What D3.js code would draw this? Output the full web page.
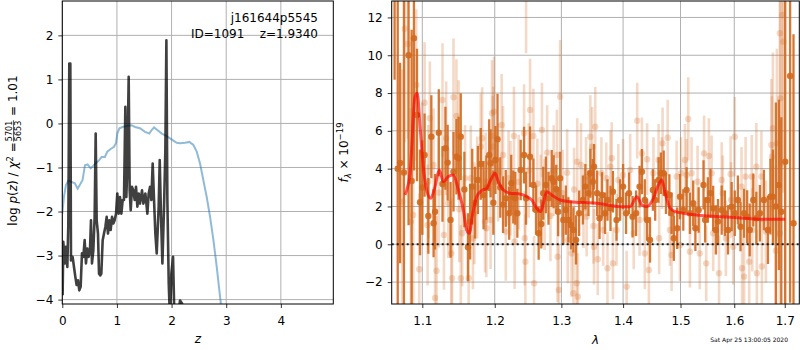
<!DOCTYPE html>
<html>
<head>
<meta charset="utf-8">
<script src="https://cdn.jsdelivr.net/npm/d3@7"></script>
<style>
body { margin: 0; background: #fff; }
svg { font-family: "DejaVu Sans", sans-serif; }
</style>
</head>
<body>
<svg id="fig" width="800" height="350"></svg>
<script>
// ---- left panel: log p(z) ----
var blackZ = [0.006,0.018,0.049,0.067,0.092,0.110,0.128,0.147,0.159,0.189,0.214,0.238,0.262,0.287,0.311,0.336,0.360,0.385,0.409,0.433,0.458,0.482,0.507,0.525,0.543,0.568,0.592,0.611,0.629,0.653,0.672,0.696,0.714,0.739,0.763,0.788,0.812,0.836,0.861,0.885,0.910,0.934,0.958,0.983,1.007,1.032,1.056,1.081,1.105,1.129,1.154,1.172,1.190,1.215,1.233,1.252,1.276,1.300,1.325,1.349,1.374,1.398,1.422,1.459,1.484,1.520,1.557,1.581,1.606,1.630,1.654,1.679,1.703,1.728,1.764,1.783,1.807,1.832,1.862,1.886,1.905,1.923,1.948,1.972,1.996,2.027,2.051,2.106,2.155,2.192,2.228];
var blackLogp = [-3.90,-2.69,-3.18,-2.80,-3.26,-2.31,1.36,1.36,-3.11,-3.03,-3.26,-3.48,-3.67,-3.56,-3.79,-3.71,-2.95,-3.03,-2.65,-3.18,-2.84,-3.03,-2.86,-2.20,-3.18,-2.88,-2.12,-0.23,-2.20,-2.50,-3.41,-3.45,-3.41,-2.65,-2.50,-2.35,-2.12,-2.50,-2.20,-2.42,-2.12,-2.27,-2.20,-2.05,-1.59,-2.05,-1.67,-2.05,-1.74,-1.74,0.38,-1.67,-0.98,1.06,-1.52,-1.97,-1.44,-1.52,-1.74,-1.44,-1.89,-1.59,-1.82,-1.52,-1.82,-1.59,-2.05,-1.59,-1.44,-1.74,-0.91,-1.74,-2.50,-2.95,-1.89,-0.83,-2.12,-3.18,-1.89,-0.61,1.89,-1.74,-3.64,-4.47,-3.41,-3.03,-4.39,-4.47,-4.02,-4.09,-4.47];

var blueZ = [0.0,0.03,0.067,0.11,0.17,0.23,0.28,0.32,0.37,0.415,0.464,0.519,0.556,0.604,0.665,0.72,0.78,0.824,0.885,0.946,0.983,1.007,1.044,1.105,1.178,1.27,1.331,1.422,1.514,1.593,1.636,1.679,1.74,1.819,1.911,1.972,2.033,2.094,2.155,2.247,2.326,2.399,2.46,2.521,2.582,2.643,2.705,2.766,2.827,2.888,2.936];
var blueLogp = [-2.05,-1.67,-1.40,-1.30,-1.33,-1.36,-1.48,-1.40,-1.29,-0.95,-0.93,-1.02,-0.98,-0.91,-0.85,-0.76,-0.76,-0.64,-0.58,-0.53,-0.45,-0.23,-0.11,-0.08,-0.06,-0.04,-0.08,-0.11,-0.19,-0.23,-0.15,-0.09,-0.15,-0.23,-0.29,-0.34,-0.39,-0.44,-0.45,-0.44,-0.42,-0.49,-0.64,-0.91,-1.29,-1.67,-2.12,-2.65,-3.26,-3.94,-4.47];

var zTicks = [0, 1, 2, 3, 4];
var logpTicks = [-4, -3, -2, -1, 0, 1, 2];

// ---- right panel: spectrum  [wavelength, flux, error] ----
var darkPoints = [
[1.064,14.0,5.3],[1.068,4.0,9.0],[1.071,4.3,5.3],[1.076,3.8,9.5],[1.082,10.0,9.0],[1.086,3.35,8.0],[1.089,10.9,7.0],[1.093,6.84,3.5],[1.097,2.22,2.8],[1.100,3.0,2.5],[1.103,4.72,2.2],[1.108,1.5,2.0],[1.112,5.69,2.2],[1.115,1.11,1.8],[1.117,1.72,2.0],[1.122,5.90,2.3],[1.127,3.19,2.0],[1.131,5.08,2.2],[1.134,4.32,2.0],[1.138,1.29,2.0],[1.142,3.84,2.1],[1.146,4.63,2.0],[1.149,4.55,2.2],[1.152,5.69,2.3],[1.157,2.9,2.0],[1.162,-0.16,1.8],[1.165,1.2,2.0],[1.168,3.05,2.0],[1.172,2.2,1.9],[1.176,3.40,1.8],[1.180,4.25,1.9],[1.184,2.6,1.8],[1.188,3.0,1.7],[1.192,4.72,1.9],[1.194,4.29,1.8],[1.198,2.2,1.7],[1.201,4.46,1.8],[1.204,5.56,2.4],[1.208,3.0,1.6],[1.212,2.1,1.5],[1.216,2.43,1.5],[1.221,1.64,1.4],[1.224,3.23,1.5],[1.227,2.5,1.4],[1.230,2.43,1.4],[1.233,1.64,1.3],[1.238,3.93,1.6],[1.243,4.72,1.5],[1.246,2.43,1.4],[1.252,4.63,1.6],[1.257,3.14,1.4],[1.261,1.81,1.3],[1.265,0.58,1.4],[1.269,1.07,1.3],[1.272,2.70,1.4],[1.276,3.14,1.5],[1.280,2.43,1.4],[1.285,3.49,1.5],[1.288,3.31,1.4],[1.292,2.91,1.3],[1.295,1.72,1.3],[1.298,3.49,1.4],[1.303,1.29,1.3],[1.307,1.81,1.3],[1.311,1.29,1.2],[1.315,1.02,1.3],[1.319,0.76,1.2],[1.323,0.23,1.3],[1.328,1.64,1.2],[1.334,2.34,1.3],[1.338,3.05,1.2],[1.343,2.70,1.2],[1.346,3.76,1.3],[1.350,3.31,1.2],[1.352,4.1,1.2],[1.357,2.70,1.2],[1.361,1.38,1.1],[1.365,2.61,1.2],[1.370,1.64,1.1],[1.374,2.34,1.1],[1.379,1.90,1.2],[1.383,2.78,1.1],[1.389,1.29,1.1],[1.395,2.34,1.1],[1.400,3.05,1.2],[1.405,1.64,1.1],[1.410,2.70,1.1],[1.416,1.46,1.1],[1.422,1.64,1.2],[1.428,3.05,1.1],[1.432,3.84,1.2],[1.437,2.34,1.1],[1.441,1.29,1.1],[1.446,0.23,1.2],[1.451,2.87,1.1],[1.455,2.34,1.1],[1.461,3.40,1.2],[1.465,3.76,1.1],[1.470,3.76,1.2],[1.474,2.70,1.1],[1.480,2.61,1.1],[1.484,1.64,1.1],[1.488,0.32,1.2],[1.494,0.85,1.1],[1.499,2.52,1.2],[1.505,1.81,1.1],[1.511,2.87,1.2],[1.517,1.64,1.1],[1.523,2.17,1.2],[1.527,0.85,1.2],[1.533,1.81,1.2],[1.542,3.14,1.3],[1.545,1.29,1.2],[1.550,2.34,1.2],[1.555,2.70,1.3],[1.560,1.90,1.2],[1.565,0.76,1.3],[1.569,1.20,1.2],[1.576,1.81,1.3],[1.582,1.64,1.2],[1.588,0.76,1.3],[1.595,1.99,1.3],[1.601,1.64,1.2],[1.607,2.34,1.3],[1.612,0.93,1.3],[1.619,1.64,1.3],[1.625,1.46,1.4],[1.630,0.76,1.4],[1.637,2.34,1.4],[1.643,1.38,1.4],[1.650,1.64,1.5],[1.658,2.34,1.6],[1.666,0.76,1.8],[1.671,2.52,2.0],[1.676,2.52,2.5],[1.682,2.0,5.5],[1.688,3.14,4.5],[1.693,1.72,5.0],[1.701,4.37,9.0],[1.711,8.9,12.0],[1.718,1.11,10.0]
];

var lightPoints = [
[1.074,2.25,7],[1.077,11.4,6],[1.081,10.6,5],[1.085,1.20,6],[1.088,1.55,5],[1.092,8.43,4],[1.096,-1.32,4],[1.100,4.0,3.5],[1.103,7.49,3.2],[1.107,1.02,3.2],[1.108,3.31,3.0],[1.110,6.67,3.0],[1.115,4.20,3.0],[1.117,-2.84,2.8],[1.119,-1.40,2.9],[1.122,2.73,2.9],[1.127,7.63,3.0],[1.129,0.49,2.9],[1.132,5.61,3.0],[1.135,2.17,2.9],[1.139,-0.48,2.9],[1.140,-1.80,2.9],[1.142,7.78,3.1],[1.146,6.79,3.0],[1.149,5.78,2.9],[1.150,1.85,2.8],[1.152,-1.80,2.8],[1.154,0.58,2.8],[1.158,3.5,2.8],[1.163,-1.80,2.7],[1.166,3.49,2.8],[1.169,0.32,2.7],[1.171,1.64,2.7],[1.175,3.0,2.7],[1.180,5.16,2.8],[1.182,5.61,2.7],[1.186,1.20,2.7],[1.187,3.31,2.6],[1.188,0.85,2.6],[1.194,1.29,2.6],[1.196,6.93,2.8],[1.197,5.16,2.7],[1.198,5.73,2.6],[1.199,7.02,2.9],[1.205,3.8,2.6],[1.210,6.31,2.7],[1.212,4.72,2.6],[1.216,0.67,2.6],[1.220,3.5,2.5],[1.223,2.96,2.5],[1.228,5.73,2.6],[1.229,0.14,2.5],[1.235,3.3,2.5],[1.243,5.87,2.6],[1.244,0.32,2.5],[1.245,-0.92,2.5],[1.246,13.2,3.1],[1.250,3.9,2.5],[1.252,7.11,2.7],[1.257,5.73,2.5],[1.258,-2.06,2.5],[1.263,3.2,2.4],[1.268,2.34,2.4],[1.270,6.05,2.5],[1.274,2.1,2.4],[1.278,4.85,2.5],[1.283,1.5,2.4],[1.288,3.9,2.4],[1.293,4.72,2.4],[1.294,-0.66,2.4],[1.296,-2.42,2.4],[1.298,7.81,3.0],[1.302,2.7,2.3],[1.309,3.79,2.3],[1.310,0.23,2.3],[1.316,-0.48,2.3],[1.319,-2.59,2.3],[1.320,2.9,2.2],[1.324,-2.06,2.3],[1.325,4.37,2.3],[1.326,-2.77,2.3],[1.331,4.20,2.2],[1.335,1.9,2.1],[1.339,3.58,2.1],[1.340,1.46,2.1],[1.346,5.69,2.2],[1.349,5.16,2.1],[1.351,0.97,2.0],[1.352,-0.13,2.0],[1.354,6.22,2.1],[1.358,-0.79,1.9],[1.364,3.76,1.9],[1.367,0.76,1.9],[1.372,3.49,1.9],[1.374,-1.27,1.9],[1.379,4.11,1.9],[1.381,4.55,1.9],[1.383,-1.01,1.9],[1.389,0.76,1.9],[1.392,3.40,1.9],[1.400,3.67,1.9],[1.406,-2.24,1.9],[1.412,3.93,1.9],[1.418,0.58,1.9],[1.424,6.54,2.0],[1.428,1.29,1.9],[1.432,4.81,1.9],[1.437,-0.48,1.9],[1.441,4.50,1.9],[1.444,-1.36,1.9],[1.452,3.76,1.9],[1.461,4.46,1.9],[1.462,0.32,1.9],[1.467,3.76,1.9],[1.468,5.34,1.9],[1.477,5.64,2.0],[1.481,0.76,1.9],[1.484,-0.57,1.9],[1.493,3.58,1.9],[1.499,-0.04,1.9],[1.501,3.76,1.9],[1.508,4.46,1.9],[1.511,3.67,1.9],[1.514,6.63,2.2],[1.517,-0.39,1.9],[1.520,3.76,1.9],[1.531,3.31,1.9],[1.535,-0.48,1.9],[1.543,4.81,2.0],[1.547,-1.01,2.0],[1.552,4.67,2.0],[1.557,3.76,2.0],[1.560,0.58,2.0],[1.571,-1.53,2.0],[1.576,3.40,2.0],[1.578,2.70,2.0],[1.584,0.32,2.0],[1.593,3.72,2.0],[1.594,2.34,2.0],[1.598,-0.13,2.0],[1.601,5.69,2.1],[1.614,3.05,2.1],[1.615,-1.27,2.1],[1.619,-1.71,2.1],[1.622,3.58,2.1],[1.629,-0.92,2.2],[1.634,3.58,2.2],[1.635,0.76,2.2],[1.643,4.11,2.3],[1.644,-1.53,2.3],[1.653,3.58,2.4],[1.654,-1.18,2.5],[1.662,0.67,2.7],[1.673,5.25,3.5],[1.674,4.63,3.2],[1.676,6.14,4],[1.682,-0.34,4.5],[1.684,5.34,5],[1.690,0.58,6],[1.690,11.16,7],[1.691,7.72,6],[1.695,12.13,8],[1.697,10.72,8]
];

var modelWave = [1.0774,1.0839,1.0904,1.0934,1.0970,1.1013,1.1058,1.1112,1.1169,1.1227,1.1281,1.1349,1.1418,1.1487,1.1556,1.1603,1.1639,1.1687,1.1744,1.1814,1.1885,1.1942,1.2005,1.2052,1.2125,1.2223,1.2370,1.2471,1.2546,1.2621,1.2682,1.2721,1.2774,1.2850,1.2980,1.3136,1.3565,1.3950,1.4119,1.4233,1.4319,1.4405,1.4519,1.4607,1.4667,1.4726,1.4815,1.4904,1.5298,1.5922,1.6572,1.7010];
var modelFlux = [2.61,3.76,7.81,7.99,6.22,4.10,2.87,2.43,3.05,3.93,3.31,3.58,3.67,2.87,1.81,0.76,0.58,1.64,2.52,2.84,2.96,3.40,3.76,3.31,2.87,2.70,2.66,2.52,2.34,1.90,1.73,2.17,2.78,2.61,2.34,2.25,2.17,1.99,1.99,2.52,2.08,1.99,2.43,3.14,3.40,2.70,1.90,1.73,1.55,1.43,1.32,1.32];

var waveTicks = [1.1, 1.2, 1.3, 1.4, 1.5, 1.6, 1.7];
var fluxTicks = [-2, 0, 2, 4, 6, 8, 10, 12];

// ---- layout ----
var svg = d3.select('#fig');
var FS = 12;
var SPEC = 'chocolate';

var pL = {x0: 62.3, x1: 333.3, y0: 1, y1: 304};
var pR = {x0: 391.7, x1: 799.3, y0: 1, y1: 304};

var xL = d3.scaleLinear().domain([0, 4.96]).range([pL.x0, pL.x1]);
var yL = d3.scaleLinear().domain([-4.1, 2.78]).range([pL.y1, pL.y0]);
var xR = d3.scaleLog().domain([1.0603, 1.730]).range([pR.x0, pR.x1]);
var yR = d3.scaleLinear().domain([-3.16, 12.87]).range([pR.y1, pR.y0]);

function clip(id, p){
	svg.append('clipPath').attr('id', id).append('rect')
		.attr('x', p.x0).attr('y', p.y0)
		.attr('width', p.x1 - p.x0).attr('height', p.y1 - p.y0);
}
clip('clipL', pL);
clip('clipR', pR);

function grid(p, x, y, xt, yt){
	var g = svg.append('g').attr('stroke', '#b0b0b0').attr('stroke-width', 1);
	g.selectAll('.gx').data(xt).enter().append('line')
		.attr('x1', function(d){ return x(d); }).attr('x2', function(d){ return x(d); })
		.attr('y1', p.y0).attr('y2', p.y1);
	g.selectAll('.gy').data(yt).enter().append('line')
		.attr('y1', function(d){ return y(d); }).attr('y2', function(d){ return y(d); })
		.attr('x1', p.x0).attr('x2', p.x1);
}

function axes(p, x, y, xt, yt, xfmt){
	var ax = svg.append('g').attr('transform', 'translate(0,' + p.y1 + ')')
		.call(d3.axisBottom(x).tickValues(xt).tickFormat(xfmt).tickSize(4).tickPadding(5));
	var ay = svg.append('g').attr('transform', 'translate(' + p.x0 + ',0)')
		.call(d3.axisLeft(y).tickValues(yt).tickFormat(d3.format('d')).tickSize(4).tickPadding(5));
	[ax, ay].forEach(function(a){
		a.select('.domain').remove();
		a.attr('font-family', '"DejaVu Sans", sans-serif').attr('font-size', FS);
		a.selectAll('text').attr('fill', '#000');
		a.selectAll('line').attr('stroke', '#000').attr('stroke-width', 0.8);
	});
	ax.selectAll('text').attr('dy', null).attr('y', 21);
	svg.append('rect').attr('x', p.x0).attr('y', p.y0)
		.attr('width', p.x1 - p.x0).attr('height', p.y1 - p.y0)
		.attr('fill', 'none').attr('stroke', '#000').attr('stroke-width', 1);
}

// ---- left panel ----
grid(pL, xL, yL, zTicks, logpTicks);

var lineL = d3.line()
	.x(function(d){ return xL(d[0]); })
	.y(function(d){ return yL(d[1]); });

var gL = svg.append('g').attr('clip-path', 'url(#clipL)');
gL.append('path')
	.attr('d', lineL(d3.zip(blueZ, blueLogp)))
	.attr('fill', 'none').attr('stroke', 'rgb(31,119,180)').attr('stroke-opacity', 0.5)
	.attr('stroke-width', 2);
gL.append('path')
	.attr('d', lineL(d3.zip(blackZ, blackLogp)))
	.attr('fill', 'none').attr('stroke', '#000').attr('stroke-opacity', 0.75)
	.attr('stroke-width', 2.6).attr('stroke-linejoin', 'round');

axes(pL, xL, yL, zTicks, logpTicks, d3.format('d'));

svg.append('text').attr('x', 318).attr('y', 22).attr('text-anchor', 'end')
	.attr('font-size', FS).text('j161644p5545');
svg.append('text').attr('x', 318).attr('y', 38).attr('text-anchor', 'end')
	.attr('font-size', FS).style('white-space', 'pre').text('ID=1091    z=1.9340');

svg.append('text').attr('x', (pL.x0 + pL.x1) / 2).attr('y', 343)
	.attr('text-anchor', 'middle').attr('font-size', FS).attr('font-style', 'italic').text('z');

// y label: log p(z) / chi^2 = 5701/5653 = 1.01
var yl = svg.append('g').attr('transform', 'translate(17,' + ((pL.y0 + pL.y1) / 2 - 2) + ') rotate(-90)')
	.attr('font-size', FS);
var t1 = yl.append('text');
t1.append('tspan').text('log ');
t1.append('tspan').attr('font-style', 'italic').text('p');
t1.append('tspan').text('(');
t1.append('tspan').attr('font-style', 'italic').text('z');
t1.append('tspan').text(') / ');
t1.append('tspan').attr('font-style', 'italic').text('χ');
t1.append('tspan').attr('font-size', 8.5).attr('dy', -4.5).text('2');
t1.append('tspan').attr('dy', 4.5).text(' = ');
var w1 = t1.node().getComputedTextLength();
var fr = yl.append('g');
var num = fr.append('text').attr('font-size', 8).attr('text-anchor', 'middle').attr('y', -5).text('5701');
var den = fr.append('text').attr('font-size', 8).attr('text-anchor', 'middle').attr('y', 4.2).text('5653');
var fw = Math.max(num.node().getComputedTextLength(), den.node().getComputedTextLength()) + 2;
num.attr('x', w1 + fw / 2);
den.attr('x', w1 + fw / 2);
fr.append('line').attr('x1', w1 + 0.5).attr('x2', w1 + fw - 0.5).attr('y1', -3.4).attr('y2', -3.4)
	.attr('stroke', '#000').attr('stroke-width', 0.7);
var t3 = yl.append('text').attr('x', w1 + fw).style('white-space', 'pre').text(' = 1.01');
var wAll = w1 + fw + t3.node().getComputedTextLength();
yl.selectAll('text, line').attr('transform', 'translate(' + (-wAll / 2) + ',0)');

// ---- right panel ----
grid(pR, xR, yR, waveTicks, fluxTicks);

var gR = svg.append('g').attr('clip-path', 'url(#clipR)');

function errPoints(g, pts, op, w){
	g.selectAll(null).data(pts).enter().append('line')
		.attr('x1', function(d){ return xR(d[0]); }).attr('x2', function(d){ return xR(d[0]); })
		.attr('y1', function(d){ return yR(d[1] - d[2]); })
		.attr('y2', function(d){ return yR(d[1] + d[2]); })
		.attr('stroke', SPEC).attr('stroke-opacity', op).attr('stroke-width', w);
	g.selectAll(null).data(pts).enter().append('circle')
		.attr('cx', function(d){ return xR(d[0]); })
		.attr('cy', function(d){ return yR(d[1]); })
		.attr('r', 3.2).attr('fill', SPEC).attr('fill-opacity', op);
}
errPoints(gR.append('g'), lightPoints, 0.25, 2.6);
errPoints(gR.append('g'), darkPoints, 0.9, 2.3);

gR.append('line').attr('x1', pR.x0).attr('x2', pR.x1)
	.attr('y1', yR(0)).attr('y2', yR(0))
	.attr('stroke', '#000').attr('stroke-width', 2).attr('stroke-dasharray', '2,3')
	.attr('stroke-opacity', 0.85);

var lineR = d3.line()
	.x(function(d){ return xR(d[0]); })
	.y(function(d){ return yR(d[1]); })
	.curve(d3.curveMonotoneX);
gR.append('path').attr('d', lineR(d3.zip(modelWave, modelFlux)))
	.attr('fill', 'none').attr('stroke', 'red').attr('stroke-opacity', 0.65)
	.attr('stroke-width', 3).attr('stroke-linejoin', 'round');

axes(pR, xR, yR, waveTicks, fluxTicks, d3.format('.1f'));

svg.append('text').attr('x', (pR.x0 + pR.x1) / 2).attr('y', 344)
	.attr('text-anchor', 'middle').attr('font-size', FS).attr('font-style', 'italic').text('λ');

var fl = svg.append('text')
	.attr('transform', 'translate(348,' + (pR.y0 + pR.y1) / 2 + ') rotate(-90)')
	.attr('text-anchor', 'middle').attr('font-size', FS);
fl.append('tspan').attr('font-style', 'italic').text('f');
fl.append('tspan').attr('font-style', 'italic').attr('font-size', 8.5).attr('dy', 2.5).text('λ');
fl.append('tspan').attr('dy', -2.5).text(' × 10');
fl.append('tspan').attr('font-size', 8.5).attr('dy', -5).text('−19');

svg.append('text').attr('x', 788).attr('y', 341.5).attr('text-anchor', 'end')
	.attr('font-size', 6).text('Sat Apr 25 13:00:05 2020');
</script>
</body>
</html>
